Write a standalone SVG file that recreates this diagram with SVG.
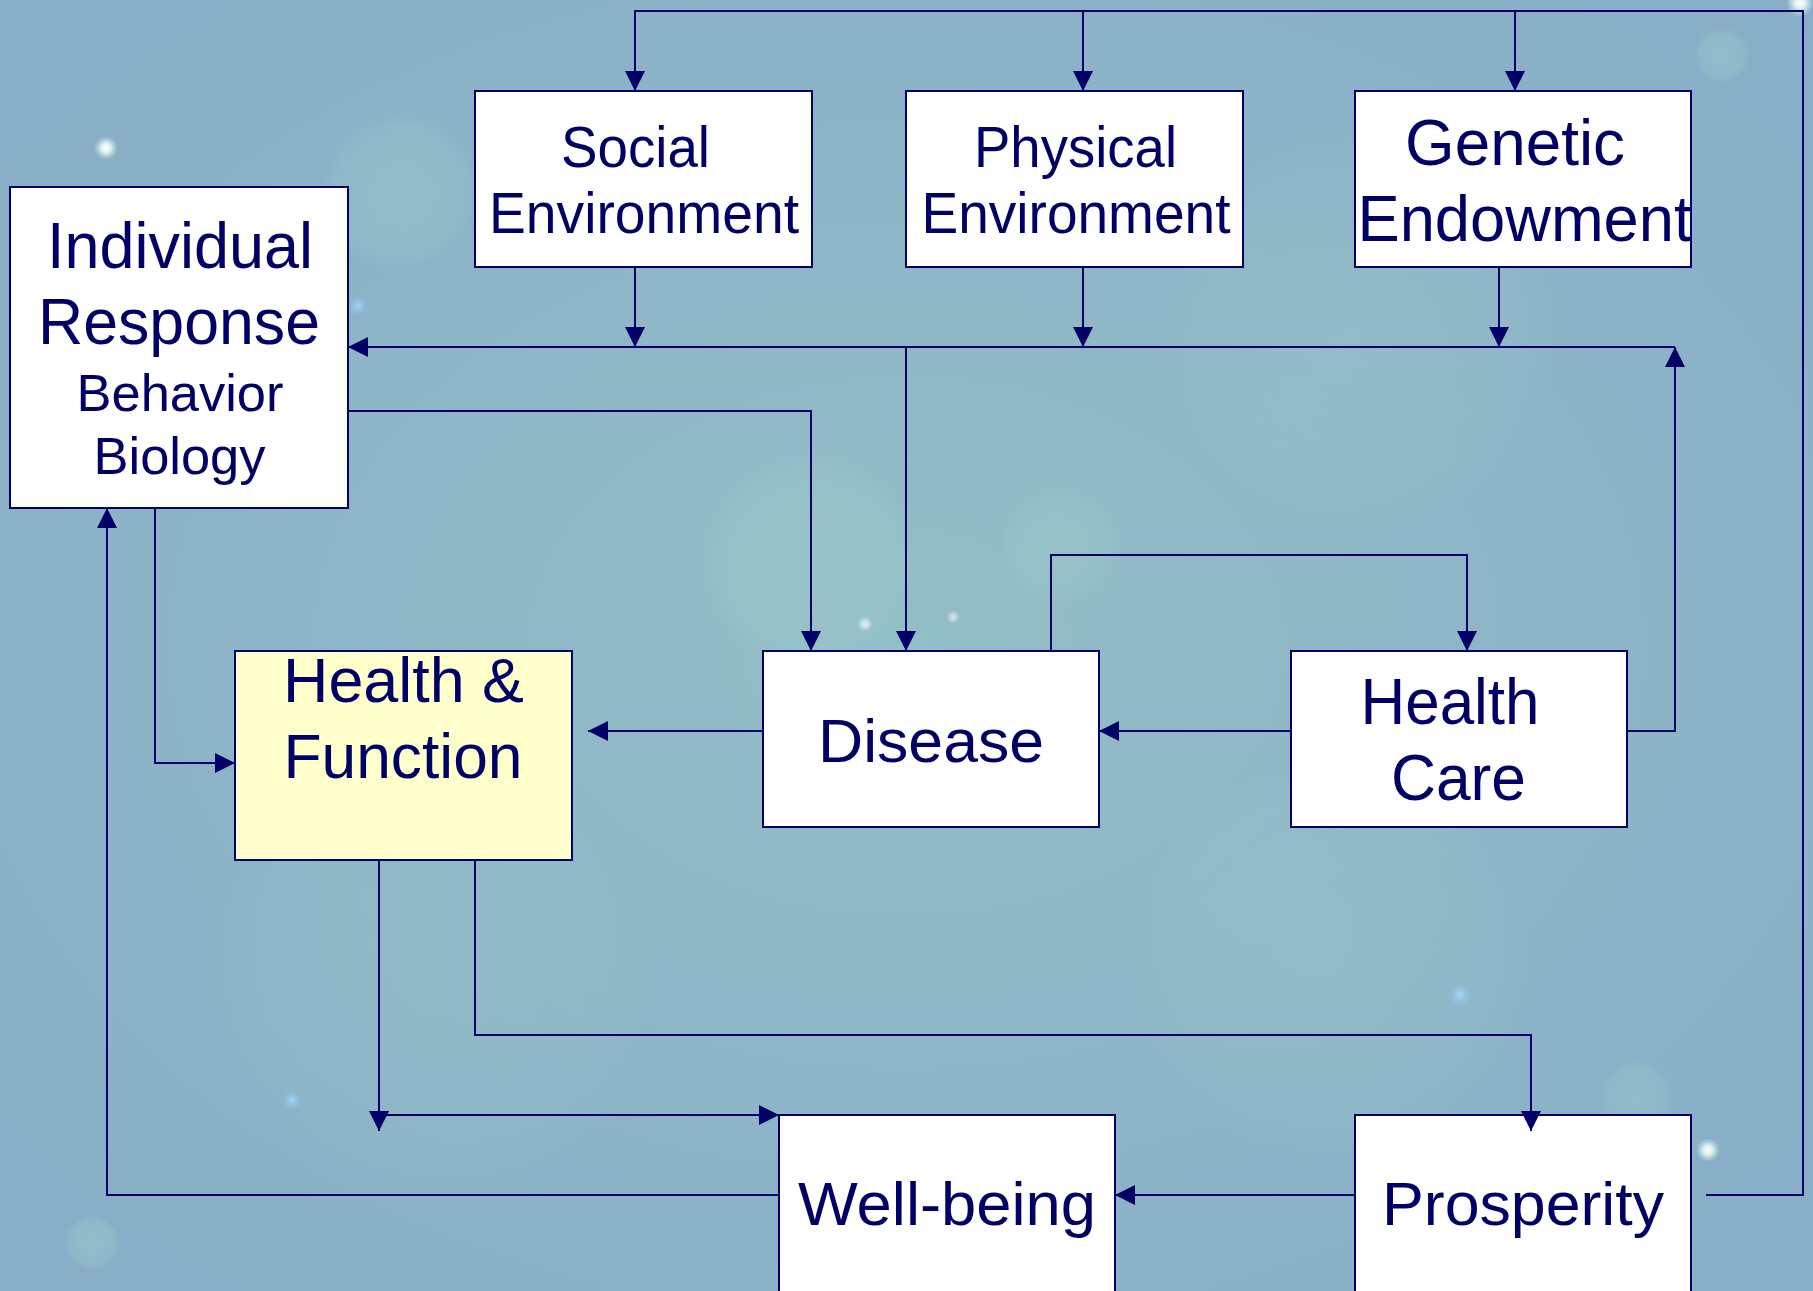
<svg xmlns="http://www.w3.org/2000/svg" width="1813" height="1291" viewBox="0 0 1813 1291">
<style>
.box{fill:#FFFFFF;stroke:#000066;stroke-width:2}
.hf{fill:#FFFFCC;stroke:#000066;stroke-width:2}
.t{font-family:"Liberation Sans",Arial,sans-serif;fill:#000066;text-anchor:middle}
.c{fill:none;stroke:#000066;stroke-width:2}
.a{fill:none;stroke:#000066;stroke-width:2;marker-end:url(#arr)}
</style>
<defs>
<marker id="arr" markerUnits="userSpaceOnUse" markerWidth="20" markerHeight="20" refX="20" refY="10" orient="auto">
<path d="M0,0 L20,10 L0,20 z" fill="#000066"/>
</marker>
<radialGradient id="bokeh">
<stop offset="0" stop-color="#A8D8CC" stop-opacity="0.45"/>
<stop offset="0.8" stop-color="#A8D8CC" stop-opacity="0.25"/>
<stop offset="1" stop-color="#A8D8CC" stop-opacity="0"/>
</radialGradient>
<radialGradient id="spark">
<stop offset="0" stop-color="#FFFFFF" stop-opacity="1"/>
<stop offset="0.4" stop-color="#F0FFF8" stop-opacity="0.8"/>
<stop offset="1" stop-color="#C8F0E8" stop-opacity="0"/>
</radialGradient>
<radialGradient id="bspark">
<stop offset="0" stop-color="#A8D8FF" stop-opacity="0.9"/>
<stop offset="1" stop-color="#8CC0F0" stop-opacity="0"/>
</radialGradient>
<radialGradient id="shade" cx="0.5" cy="0.5" r="0.7">
<stop offset="0" stop-color="#92BEC6"/>
<stop offset="1" stop-color="#88ADC8"/>
</radialGradient>
</defs>
<g id="background">
<rect width="1813" height="1291" fill="url(#shade)"/>
<circle cx="400" cy="190" r="80" fill="url(#bokeh)" opacity="0.6"/>
<circle cx="810" cy="560" r="110" fill="url(#bokeh)" opacity="0.6"/>
<circle cx="1060" cy="545" r="60" fill="url(#bokeh)" opacity="0.5"/>
<circle cx="1360" cy="330" r="200" fill="url(#bokeh)" opacity="0.35"/>
<circle cx="1330" cy="960" r="200" fill="url(#bokeh)" opacity="0.35"/>
<circle cx="430" cy="980" r="220" fill="url(#bokeh)" opacity="0.3"/>
<circle cx="1722" cy="55" r="28" fill="url(#bokeh)" opacity="0.8"/>
<circle cx="92" cy="1243" r="28" fill="url(#bokeh)" opacity="0.8"/>
<circle cx="1636" cy="1098" r="38" fill="url(#bokeh)" opacity="0.6"/>
<circle cx="106" cy="148" r="12" fill="url(#spark)"/>
<circle cx="1708" cy="1150" r="12" fill="url(#spark)"/>
<circle cx="1800" cy="3" r="14" fill="url(#spark)"/>
<circle cx="865" cy="624" r="8" fill="url(#spark)" opacity="0.7"/>
<circle cx="953" cy="617" r="7" fill="url(#spark)" opacity="0.6"/>
<circle cx="358" cy="306" r="10" fill="url(#bspark)"/>
<circle cx="1460" cy="995" r="12" fill="url(#bspark)"/>
<circle cx="292" cy="1100" r="10" fill="url(#bspark)"/>
</g>
<g id="social-environment">
<rect class="box" x="475" y="91" width="337" height="176"/>
<text class="t" font-size="57" x="635.5" y="167" textLength="149" lengthAdjust="spacingAndGlyphs">Social</text>
<text class="t" font-size="57" x="644" y="233" textLength="310" lengthAdjust="spacingAndGlyphs">Environment</text>
</g>
<g id="physical-environment">
<rect class="box" x="906" y="91" width="337" height="176"/>
<text class="t" font-size="57" x="1075.5" y="167" textLength="203" lengthAdjust="spacingAndGlyphs">Physical</text>
<text class="t" font-size="57" x="1076" y="233" textLength="309" lengthAdjust="spacingAndGlyphs">Environment</text>
</g>
<g id="genetic-endowment">
<rect class="box" x="1355" y="91" width="336" height="176"/>
<text class="t" font-size="64" x="1515" y="165" textLength="220" lengthAdjust="spacingAndGlyphs">Genetic</text>
<text class="t" font-size="64" x="1524.5" y="241" textLength="334" lengthAdjust="spacingAndGlyphs">Endowment</text>
</g>
<g id="individual-response">
<rect class="box" x="10" y="187" width="338" height="321"/>
<text class="t" font-size="64" x="180" y="268" textLength="266" lengthAdjust="spacingAndGlyphs">Individual</text>
<text class="t" font-size="64" x="179" y="344" textLength="282" lengthAdjust="spacingAndGlyphs">Response</text>
<text class="t" font-size="52" x="180" y="411" textLength="207" lengthAdjust="spacingAndGlyphs">Behavior</text>
<text class="t" font-size="52" x="179.5" y="474" textLength="172" lengthAdjust="spacingAndGlyphs">Biology</text>
</g>
<g id="health-function">
<rect class="hf" x="235" y="651" width="337" height="209"/>
<text class="t" font-size="63" x="403.5" y="702" textLength="241" lengthAdjust="spacingAndGlyphs">Health &amp;</text>
<text class="t" font-size="63" x="403" y="778" textLength="239" lengthAdjust="spacingAndGlyphs">Function</text>
</g>
<g id="disease">
<rect class="box" x="763" y="651" width="336" height="176"/>
<text class="t" font-size="62" x="931" y="762" textLength="226" lengthAdjust="spacingAndGlyphs">Disease</text>
</g>
<g id="health-care">
<rect class="box" x="1291" y="651" width="336" height="176"/>
<text class="t" font-size="64" x="1450" y="724" textLength="179" lengthAdjust="spacingAndGlyphs">Health</text>
<text class="t" font-size="64" x="1458.5" y="800" textLength="135" lengthAdjust="spacingAndGlyphs">Care</text>
</g>
<g id="well-being">
<rect class="box" x="779" y="1115" width="336" height="190"/>
<text class="t" font-size="62" x="947" y="1225" textLength="298" lengthAdjust="spacingAndGlyphs">Well-being</text>
</g>
<g id="prosperity">
<rect class="box" x="1355" y="1115" width="336" height="190"/>
<text class="t" font-size="62" x="1523" y="1225" textLength="282" lengthAdjust="spacingAndGlyphs">Prosperity</text>
</g>
<g id="connectors">
<path class="a" d="M1706,1195 H1803 V11 H635 V91"/>
<path class="a" d="M1083,11 V91"/>
<path class="a" d="M1515,11 V91"/>
<path class="a" d="M635,267 V347"/>
<path class="a" d="M1083,267 V347"/>
<path class="a" d="M1499,267 V347"/>
<path class="a" d="M1675,347 H348"/>
<path class="a" d="M1627,731 H1675 V347"/>
<path class="a" d="M906,347 V651"/>
<path class="a" d="M348,411 H811 V651"/>
<path class="a" d="M1051,651 V555 H1467 V651"/>
<path class="a" d="M1291,731 H1099"/>
<path class="a" d="M763,731 H588"/>
<path class="a" d="M155,508 V763 H235"/>
<path class="a" d="M779,1195 H107 V508"/>
<path class="a" d="M379,860 V1131"/>
<path class="a" d="M379,1115 H779"/>
<path class="a" d="M475,860 V1035 H1531 V1131"/>
<path class="a" d="M1355,1195 H1115"/>
</g>
</svg>
